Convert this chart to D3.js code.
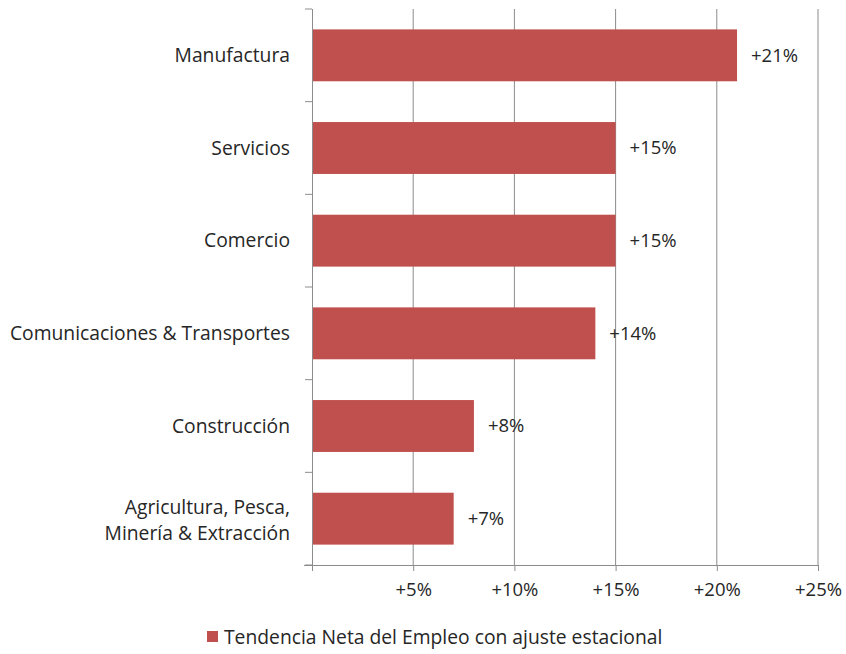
<!DOCTYPE html>
<html>
<head>
<meta charset="utf-8">
<script src="https://cdn.jsdelivr.net/npm/d3@7"></script>
<style>
  body { margin: 0; background: #fff; }
  svg { font-family: "Open Sans", sans-serif; }
</style>
</head>
<body>
<div id="chart"></div>
<script>
// data
const categories = [
    'Manufactura',
    'Servicios',
    'Comercio',
    'Comunicaciones & Transportes',
    'Construcción',
    'Agricultura, Pesca,|Minería & Extracción'
];
const values = [21, 15, 15, 14, 8, 7];
const xTicks = [0, 5, 10, 15, 20, 25];
const seriesName = 'Tendencia Neta del Empleo con ajuste estacional';

const width = 846, height = 654;
const margin = { top: 9, right: 28, bottom: 89, left: 312 };
const innerW = width - margin.left - margin.right;
const innerH = height - margin.top - margin.bottom;

const svg = d3.select('#chart').append('svg')
    .attr('width', width)
    .attr('height', height);

const g = svg.append('g')
    .attr('transform', `translate(${margin.left},${margin.top})`);

const x = d3.scaleLinear().domain([0, 25]).range([0, innerW]);
const y = d3.scaleBand().domain(categories).range([0, innerH])
    .paddingInner(0.44).paddingOuter(0.22);

const textColor = '#262626';
const gridColor = '#8c8c8c';
const barColor = '#c0504d';
const fs = 19.3;

// vertical grid lines
g.append('g').selectAll('line')
    .data(xTicks.slice(1))
    .join('line')
    .attr('x1', d => x(d)).attr('x2', d => x(d))
    .attr('y1', 0).attr('y2', innerH)
    .attr('stroke', gridColor).attr('stroke-width', 1);

// bars
g.append('g').selectAll('rect')
    .data(values)
    .join('rect')
    .attr('x', x(0))
    .attr('y', (d, i) => y(categories[i]))
    .attr('width', d => x(d) - x(0))
    .attr('height', y.bandwidth())
    .attr('fill', barColor);

// value labels
g.append('g').selectAll('text')
    .data(values)
    .join('text')
    .attr('x', d => x(d) + 14)
    .attr('y', (d, i) => y(categories[i]) + y.bandwidth() / 2)
    .attr('dy', '0.35em')
    .attr('font-size', 18.5)
    .attr('fill', textColor)
    .text(d => '+' + d + '%');

// x axis
const xAxis = g.append('g')
    .attr('transform', `translate(0,${innerH})`)
    .call(d3.axisBottom(x).tickValues(xTicks).tickSize(6).tickPadding(12)
        .tickFormat(d => d === 0 ? '' : '+' + d + '%'));
xAxis.select('.domain').attr('stroke', gridColor).attr('d', `M-8,0.5H${innerW}`);
xAxis.selectAll('.tick line').attr('stroke', gridColor);
xAxis.selectAll('.tick text').attr('font-size', 18.5).attr('fill', textColor)
    .attr('font-family', '"Open Sans", sans-serif');

// y axis: ticks at band boundaries
const step = y.step();
const bounds = d3.range(categories.length + 1).map(i => i * step);
g.append('line')
    .attr('x1', 0.5).attr('x2', 0.5).attr('y1', 0).attr('y2', innerH)
    .attr('stroke', gridColor);
g.append('g').selectAll('line')
    .data(bounds)
    .join('line')
    .attr('x1', -7).attr('x2', 0)
    .attr('y1', d => d).attr('y2', d => d)
    .attr('stroke', gridColor);

// category labels (| marks a line break)
const lineGap = 26;
const labels = g.append('g').selectAll('text')
    .data(categories)
    .join('text')
    .attr('text-anchor', 'end')
    .attr('font-size', fs)
    .attr('fill', textColor);
labels.each(function (d) {
    const lines = d.split('|');
    const t = d3.select(this);
    const cy = y(d) + y.bandwidth() / 2 + (lines.length > 1 ? 1.5 : 0);
    lines.forEach((line, i) => {
        t.append('tspan')
            .attr('x', -22)
            .attr('y', cy + (i - (lines.length - 1) / 2) * lineGap)
            .attr('dy', '0.35em')
            .text(line);
    });
});

// legend
const legend = svg.append('g').attr('transform', 'translate(207,637)');
legend.append('rect')
    .attr('x', 0).attr('y', -6).attr('width', 11).attr('height', 11)
    .attr('fill', barColor);
legend.append('text')
    .attr('x', 17).attr('dy', '0.35em')
    .attr('font-size', fs)
    .attr('fill', textColor)
    .text(seriesName);
</script>
</body>
</html>
